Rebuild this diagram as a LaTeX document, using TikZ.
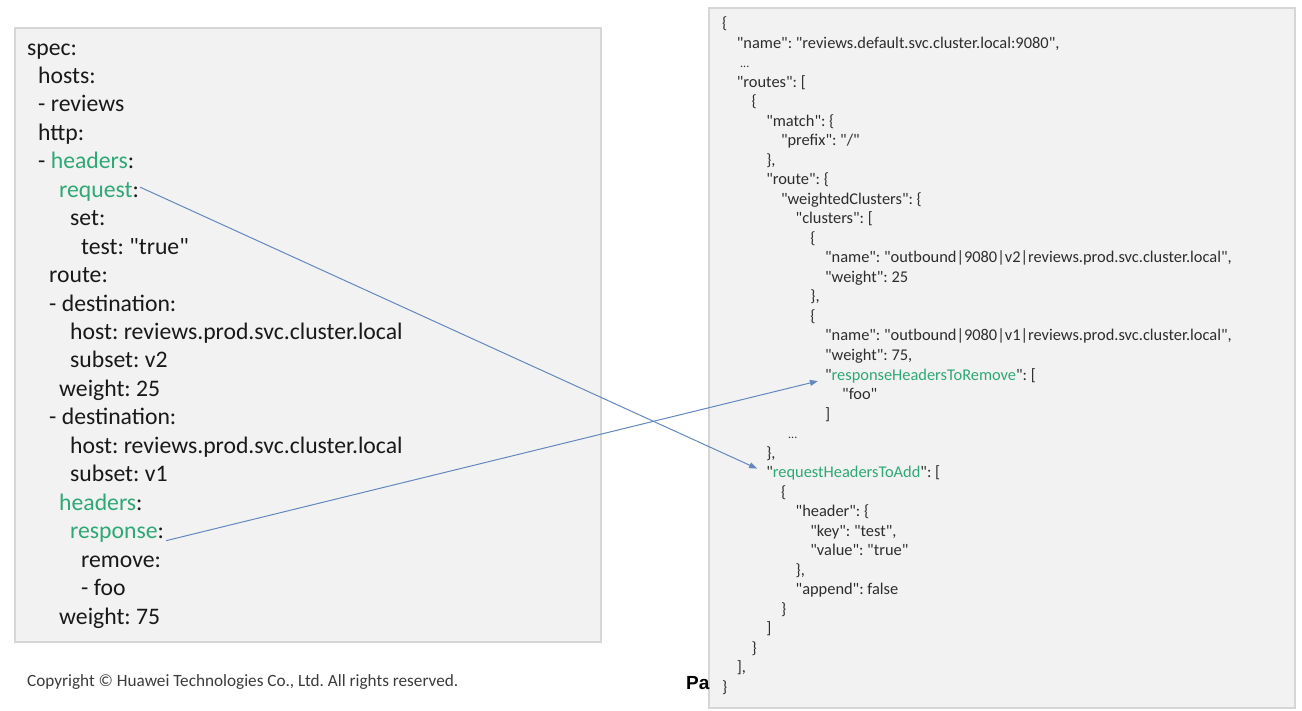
\documentclass[tikz,border=0pt]{standalone}
\usepackage{fontspec}
\setmainfont{Carlito}[Ligatures=TeXOff]
\newfontfamily\arialf{Liberation Sans}
\usetikzlibrary{arrows.meta}
\definecolor{hlc}{RGB}{46,168,118}
\definecolor{panelfill}{RGB}{242,242,242}
\definecolor{panelline}{RGB}{214,214,214}
\definecolor{arrowc}{RGB}{100,136,190}
\definecolor{txt}{RGB}{25,25,25}
\definecolor{rtxtc}{RGB}{45,45,45}
\definecolor{copyc}{RGB}{60,60,60}
\newcommand\hlw[1]{\textcolor{hlc}{#1}}
\frenchspacing
\begin{document}
\begin{tikzpicture}[x=1pt,y=-1pt,
  panel/.style={fill=panelfill,draw=panelline,line width=1.5pt},
  lt/.style={anchor=base west,inner sep=0pt,font=\fontsize{23.7}{28}\selectfont,text=txt},
  rt/.style={anchor=base west,inner sep=0pt,font=\fontsize{16.4}{19.5}\selectfont,text=rtxtc},
  dots/.style={anchor=base west,inner sep=0pt,font=\fontsize{12}{14}\selectfont,text=rtxtc},
  link/.style={draw=arrowc,line width=1pt,-{Triangle[length=8pt,width=6pt]}}]
\useasboundingbox (0,0) rectangle (1302,710);
\fill[white] (0,0) rectangle (1302,710);
\path[panel] (15,28) rectangle (601,642);
\path[panel] (709,8) rectangle (1295,708);
% left panel (YAML)
\node[lt] (l0)  at (27,{55+28.45*0})  {spec:};
\node[lt] (l1)  at (38,{55+28.45*1})  {hosts:};
\node[lt] (l2)  at (38,{55+28.45*2})  {- reviews};
\node[lt] (l3)  at (38,{55+28.45*3})  {http:};
\node[lt] (l4)  at (38,{55+28.45*4})  {- \hlw{headers}:};
\node[lt] (req) at (59,{55+28.45*5})  {\hlw{request}:};
\node[lt] (l6)  at (70,{55+28.45*6})  {set:};
\node[lt] (l7)  at (81,{55+28.45*7})  {test: "true"};
\node[lt] (l8)  at (49,{55+28.45*8})  {route:};
\node[lt] (l9)  at (49,{55+28.45*9})  {- destination:};
\node[lt] (l10) at (70,{55+28.45*10}) {host: reviews.prod.svc.cluster.local};
\node[lt] (l11) at (70,{55+28.45*11}) {subset: v2};
\node[lt] (l12) at (59,{55+28.45*12}) {weight: 25};
\node[lt] (l13) at (49,{55+28.45*13}) {- destination:};
\node[lt] (l14) at (70,{55+28.45*14}) {host: reviews.prod.svc.cluster.local};
\node[lt] (l15) at (70,{55+28.45*15}) {subset: v1};
\node[lt] (l16) at (59,{55+28.45*16}) {\hlw{headers}:};
\node[lt] (resp) at (70,{55+28.45*17}) {\hlw{response}:};
\node[lt] (l18) at (81,{55+28.45*18}) {remove:};
\node[lt] (l19) at (81,{55+28.45*19}) {- foo};
\node[lt] (l20) at (59,{55+28.45*20}) {weight: 75};
% right panel (JSON)
\node[rt] (r0)  at (722.0,{28.5+19.53*0})  {\{};
\node[rt] (r1)  at (736.7,{28.5+19.53*1})  {"name": "reviews.default.svc.cluster.local:9080",};
\node[dots] (r2) at (740.0,{28.5+19.53*2}) {...};
\node[rt] (r3)  at (736.7,{28.5+19.53*3})  {"routes": [};
\node[rt] (r4)  at (751.4,{28.5+19.53*4})  {\{};
\node[rt] (r5)  at (766.1,{28.5+19.53*5})  {"match": \{};
\node[rt] (r6)  at (780.8,{28.5+19.53*6})  {"prefix": "/"};
\node[rt] (r7)  at (766.1,{28.5+19.53*7})  {\},};
\node[rt] (r8)  at (766.1,{28.5+19.53*8})  {"route": \{};
\node[rt] (r9)  at (780.8,{28.5+19.53*9})  {"weightedClusters": \{};
\node[rt] (r10) at (795.5,{28.5+19.53*10}) {"clusters": [};
\node[rt] (r11) at (810.2,{28.5+19.53*11}) {\{};
\node[rt] (r12) at (824.9,{28.5+19.53*12}) {"name": "outbound|9080|v2|reviews.prod.svc.cluster.local",};
\node[rt] (r13) at (824.9,{28.5+19.53*13}) {"weight": 25};
\node[rt] (r14) at (810.2,{28.5+19.53*14}) {\},};
\node[rt] (r15) at (810.2,{28.5+19.53*15}) {\{};
\node[rt] (r16) at (824.9,{28.5+19.53*16}) {"name": "outbound|9080|v1|reviews.prod.svc.cluster.local",};
\node[rt] (r17) at (824.9,{28.5+19.53*17}) {"weight": 75,};
\node[rt] (rhr) at (824.9,{28.5+19.53*18}) {"\hlw{responseHeadersToRemove}": [};
\node[rt] (r19) at (842.0,{28.5+19.53*19}) {"foo"};
\node[rt] (r20) at (824.9,{28.5+19.53*20}) {]};
\node[dots] (r21) at (788.0,{28.5+19.53*21}) {...};
\node[rt] (r22) at (766.1,{28.5+19.53*22}) {\},};
\node[rt] (rha) at (766.1,{28.5+19.53*23}) {"\hlw{requestHeadersToAdd}": [};
\node[rt] (r24) at (780.8,{28.5+19.53*24}) {\{};
\node[rt] (r25) at (795.5,{28.5+19.53*25}) {"header": \{};
\node[rt] (r26) at (810.2,{28.5+19.53*26}) {"key": "test",};
\node[rt] (r27) at (810.2,{28.5+19.53*27}) {"value": "true"};
\node[rt] (r28) at (795.5,{28.5+19.53*28}) {\},};
\node[rt] (r29) at (795.5,{28.5+19.53*29}) {"append": false};
\node[rt] (r30) at (780.8,{28.5+19.53*30}) {\}};
\node[rt] (r31) at (766.1,{28.5+19.53*31}) {]};
\node[rt] (r32) at (751.4,{28.5+19.53*32}) {\}};
\node[rt] (r33) at (736.7,{28.5+19.53*33}) {],};
\node[rt] (r34) at (722.0,{28.5+19.53*34}) {\}};
% footer
\node[anchor=base west,inner sep=0pt,font=\fontsize{17.2}{20}\selectfont,text=copyc] (copy) at (27,686) {Copyright \textcopyright{} Huawei Technologies Co., Ltd. All rights reserved.};
\node[anchor=base west,inner sep=0pt,font=\arialf\bfseries\fontsize{19}{22}\selectfont,text=black] (pa) at (686,689) {Pa};
% connectors
\draw[link] ([xshift=1pt,yshift=4.5pt]req.east) -- ([xshift=-9pt,yshift=4.5pt]rha.west);
\draw[link] ([xshift=2pt,yshift=-2pt]resp.base east) -- ([xshift=-7pt,yshift=-1pt]rhr.base west);
\end{tikzpicture}
\end{document}
